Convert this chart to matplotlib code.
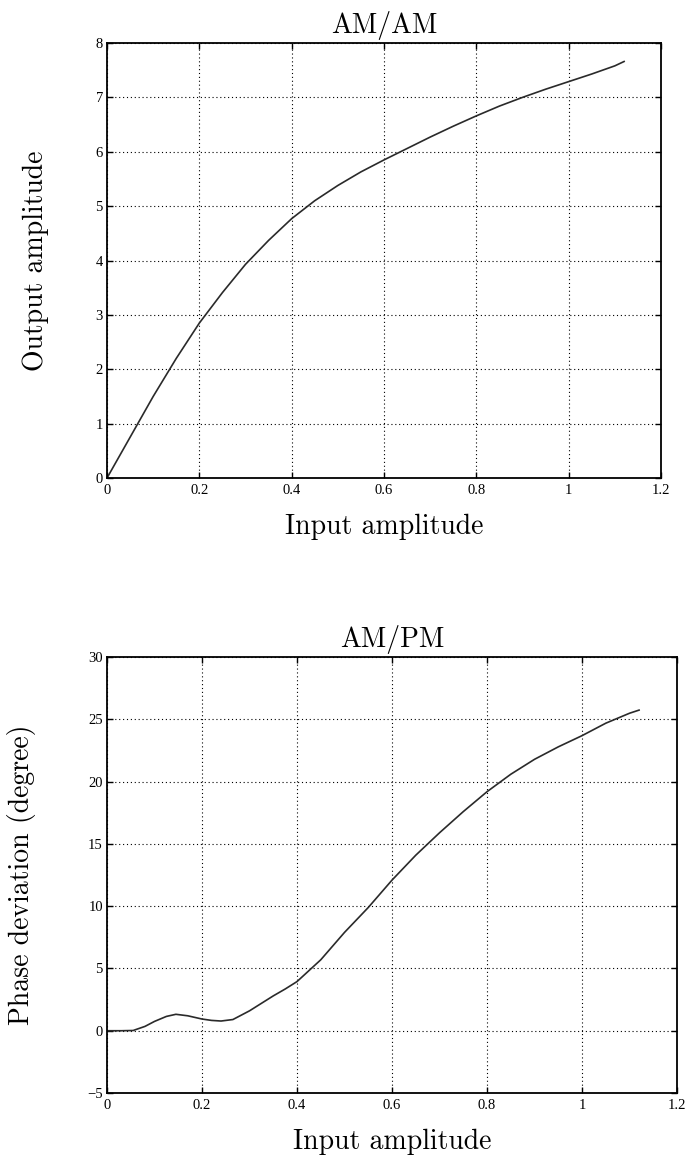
import matplotlib
matplotlib.use("Agg")
import matplotlib.pyplot as plt

# AM/AM curve
amam_x = [0, 0.05, 0.1, 0.15, 0.2, 0.25, 0.3, 0.35, 0.4, 0.45, 0.5, 0.55,
          0.6, 0.65, 0.7, 0.75, 0.8, 0.85, 0.9, 0.95, 1.0, 1.05, 1.1, 1.12]
amam_y = [0, 0.75, 1.5, 2.2, 2.85, 3.41, 3.93, 4.37, 4.77, 5.1, 5.38, 5.63,
          5.85, 6.06, 6.27, 6.47, 6.66, 6.84, 7.0, 7.15, 7.29, 7.43, 7.58, 7.66]

# AM/PM curve
ampm_x = [0, 0.03, 0.055, 0.08, 0.1, 0.125, 0.145, 0.17, 0.2, 0.22, 0.24, 0.265,
          0.3, 0.325, 0.35, 0.375, 0.4, 0.45, 0.5, 0.55, 0.6, 0.65, 0.7, 0.75,
          0.8, 0.85, 0.9, 0.95, 1.0, 1.05, 1.1, 1.12]
ampm_y = [0, 0, 0.02, 0.35, 0.75, 1.15, 1.32, 1.2, 0.94, 0.83, 0.78, 0.9,
          1.6, 2.2, 2.8, 3.35, 3.95, 5.7, 7.9, 9.9, 12.1, 14.1, 15.9, 17.6,
          19.2, 20.6, 21.8, 22.8, 23.7, 24.7, 25.5, 25.75]

x_ticks = [0, 0.2, 0.4, 0.6, 0.8, 1.0, 1.2]
x_ticklabels = ["0", "0.2", "0.4", "0.6", "0.8", "1", "1.2"]
amam_yticks = [0, 1, 2, 3, 4, 5, 6, 7, 8]
ampm_yticks = [-5, 0, 5, 10, 15, 20, 25, 30]

label_font = dict(family="cmr10", size=20)
tick_font = "Liberation Serif"

fig = plt.figure(figsize=(6.86, 11.56), dpi=100)


def style_axes(ax, yticks, xlim, ylim):
    ax.set_xlim(xlim)
    ax.set_ylim(ylim)
    ax.set_xticks(x_ticks)
    ax.set_xticklabels(x_ticklabels)
    ax.set_yticks(yticks)
    ax.set_yticklabels([str(t).replace("-", "\u2212") for t in yticks])
    for lab in ax.get_xticklabels() + ax.get_yticklabels():
        lab.set_fontfamily(tick_font)
        lab.set_fontsize(10.5)
    ax.tick_params(direction="in", length=4, width=1, top=True, right=True,
                   color="black")
    ax.tick_params(axis="x", pad=4)
    ax.tick_params(axis="y", pad=3)
    ax.grid(True, color="black", linestyle=(0, (1, 2.5)), linewidth=0.8)
    for s in ax.spines.values():
        s.set_linewidth(1.3)
        s.set_color("black")


# top plot
ax1 = fig.add_axes([0.156, 0.5865, 0.8076, 0.3763])
ax1.plot(amam_x, amam_y, color="#2a2a2a", linewidth=1.2)
style_axes(ax1, amam_yticks, (0, 1.2), (0, 8))
ax1.set_title("AM/AM", fontdict=label_font, pad=7)
ax1.set_xlabel("Input amplitude", fontdict=label_font, labelpad=12)
ax1.set_ylabel("Output amplitude", fontdict=label_font)
ax1.yaxis.set_label_coords(-0.105, 0.5)

# bottom plot
ax2 = fig.add_axes([0.156, 0.0545, 0.831, 0.377])
ax2.plot(ampm_x, ampm_y, color="#2a2a2a", linewidth=1.2)
style_axes(ax2, ampm_yticks, (0, 1.2), (-5, 30))
ax2.set_title("AM/PM", fontdict=label_font, pad=7)
ax2.set_xlabel("Input amplitude", fontdict=label_font, labelpad=12)
ax2.set_ylabel("Phase deviation (degree)", fontdict=label_font)
ax2.yaxis.set_label_coords(-0.125, 0.5)

fig.savefig("out.png", dpi=100)
